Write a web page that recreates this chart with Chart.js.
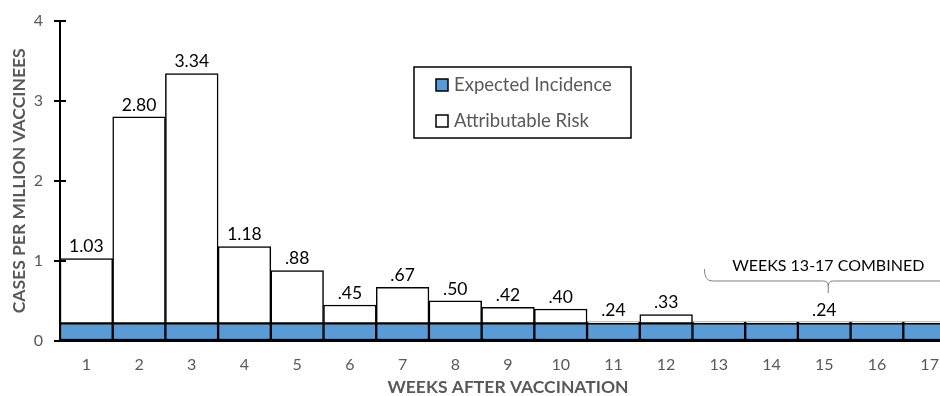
<!DOCTYPE html>
<html>
<head>
<meta charset="utf-8">
<script src="https://cdn.jsdelivr.net/npm/chart.js@4.4.1/dist/chart.umd.min.js"></script>
<style>
  html, body { margin: 0; padding: 0; overflow: hidden; background: #fff; }
  #wrap { width: 958px; height: 396px; }
</style>
</head>
<body>
<div id="wrap"><canvas id="c" width="958" height="396"></canvas></div>
<script>
// Weeks after vaccination (weeks 13-17 share one combined rate)
const weeks = ['1', '2', '3', '4', '5', '6', '7', '8', '9', '10', '11', '12', '13', '14', '15', '16', '17'];

// Background (expected) incidence, cases per million vaccinees
const expectedIncidence = [0.22, 0.22, 0.22, 0.22, 0.22, 0.22, 0.22, 0.22, 0.22, 0.22, 0.22, 0.22, 0.22, 0.22, 0.22, 0.22, 0.22];

// Excess (attributable) risk stacked on top of the expected incidence
const attributableRisk = [0.81, 2.58, 3.12, 0.96, 0.66, 0.23, 0.45, 0.28, 0.20, 0.18, 0.02, 0.11, 0.02, 0.02, 0.02, 0.02, 0.02];

// Weeks whose stacked total gets a value label (combined weeks 13-17 labelled once)
const labelledWeeks = ['1', '2', '3', '4', '5', '6', '7', '8', '9', '10', '11', '12', '15'];

// Y axis ticks
const yTicks = [0, 1, 2, 3, 4];

const FONT = 'Lato, "Open Sans", sans-serif';
const GREY = '#595959';
const BLUE = '#5b9bd5';

function fmtRate(v) {
  const s = v.toFixed(2);
  return v < 1 ? s.replace(/^0/, '') : s;
}

const extras = {
  id: 'extras',
  afterDatasetsDraw(chart) {
    const { ctx, scales: { x, y } } = chart;
    ctx.save();

    // tick marks crossing into the plot on the y axis
    ctx.strokeStyle = '#000';
    ctx.lineWidth = 2;
    yTicks.forEach(v => {
      const py = Math.round(y.getPixelForValue(v));
      ctx.beginPath();
      ctx.moveTo(x.left, py);
      ctx.lineTo(x.left + 6, py);
      ctx.stroke();
    });

    // value labels above each stack
    ctx.fillStyle = '#000';
    ctx.font = '17.5px ' + FONT;
    ctx.textAlign = 'center';
    ctx.textBaseline = 'bottom';
    weeks.forEach((w, i) => {
      if (!labelledWeeks.includes(w)) return;
      const total = expectedIncidence[i] + attributableRisk[i];
      const px = x.getPixelForValue(i);
      const py = y.getPixelForValue(total);
      ctx.fillText(fmtRate(total), px, py - 3);
    });

    // bracket marking the combined weeks 13-17
    const cx = x.getPixelForValue(14) + 4;
    const bw = x.getPixelForValue(1) - x.getPixelForValue(0);
    const half = bw * 2.35;
    const yb = 281;
    ctx.strokeStyle = '#7f7f7f';
    ctx.lineWidth = 1;
    ctx.beginPath();
    ctx.moveTo(cx - half, 269);
    ctx.quadraticCurveTo(cx - half, yb, cx - half + 8, yb);
    ctx.lineTo(cx - 5, yb);
    ctx.quadraticCurveTo(cx, yb, cx, yb + 5);
    ctx.lineTo(cx, yb + 12);
    ctx.moveTo(cx, yb + 5);
    ctx.quadraticCurveTo(cx, yb, cx + 5, yb);
    ctx.lineTo(cx + half - 8, yb);
    ctx.quadraticCurveTo(cx + half, yb, cx + half, 269);
    ctx.stroke();
    ctx.fillStyle = '#000';
    ctx.textBaseline = 'middle';
    ctx.font = '16px ' + FONT;
    ctx.fillText('WEEKS 13-17 COMBINED', cx, 266);

    // legend box
    const lx = 414, ly = 67, lw = 217, lh = 71;
    ctx.strokeStyle = '#000';
    ctx.lineWidth = 1.5;
    ctx.strokeRect(lx, ly, lw, lh);
    const items = chart.data.datasets;
    const rows = [85, 121];
    ctx.textAlign = 'left';
    ctx.font = '18.5px ' + FONT;
    items.forEach((ds, k) => {
      const ry = rows[k];
      ctx.fillStyle = ds.backgroundColor;
      ctx.fillRect(436, ry - 6, 12, 12);
      ctx.strokeStyle = '#000';
      ctx.lineWidth = 1.5;
      ctx.strokeRect(436, ry - 6, 12, 12);
      ctx.fillStyle = GREY;
      ctx.fillText(ds.label, 454, ry);
    });

    ctx.restore();
  }
};

new Chart(document.getElementById('c'), {
  type: 'bar',
  data: {
    labels: weeks,
    datasets: [
      {
        label: 'Expected Incidence',
        data: expectedIncidence,
        backgroundColor: BLUE,
        borderColor: '#000',
        borderWidth: 1.5,
        borderSkipped: false,
        categoryPercentage: 1,
        barPercentage: 1
      },
      {
        label: 'Attributable Risk',
        data: attributableRisk,
        backgroundColor: '#ffffff',
        borderColor: '#000',
        borderWidth: 1.5,
        borderSkipped: false,
        categoryPercentage: 1,
        barPercentage: 1
      }
    ]
  },
  options: {
    responsive: false,
    animation: false,
    layout: { padding: { top: 18, right: 2, left: 0, bottom: 0 } },
    plugins: { legend: { display: false }, tooltip: { enabled: false } },
    scales: {
      x: {
        stacked: true,
        grid: { display: false, drawTicks: false },
        border: { display: true, color: '#000', width: 2 },
        ticks: { color: GREY, font: { family: FONT, size: 16 }, padding: 14 },
        title: {
          display: true, text: 'WEEKS AFTER VACCINATION', color: GREY,
          font: { family: FONT, size: 17.5, weight: 'bold', lineHeight: 1 }, padding: { top: 0, bottom: 0 }
        },
        afterFit(s) { s.height = 55; }
      },
      y: {
        stacked: true,
        min: 0,
        max: 4,
        afterBuildTicks(s) { s.ticks = yTicks.map(v => ({ value: v })); },
        ticks: { color: GREY, font: { family: FONT, size: 16 }, padding: 11 },
        grid: { drawOnChartArea: false, drawTicks: true, tickLength: 6, color: '#000', lineWidth: 2 },
        border: { color: '#000', width: 2 },
        title: {
          display: true, text: 'CASES PER MILLION VACCINEES', color: GREY,
          font: { family: FONT, size: 17.5, weight: 'bold', lineHeight: 1 }, padding: { top: 11, bottom: 0 }
        },
        afterFit(s) { s.width = 60; }
      }
    }
  },
  plugins: [extras]
});
</script>
</body>
</html>
